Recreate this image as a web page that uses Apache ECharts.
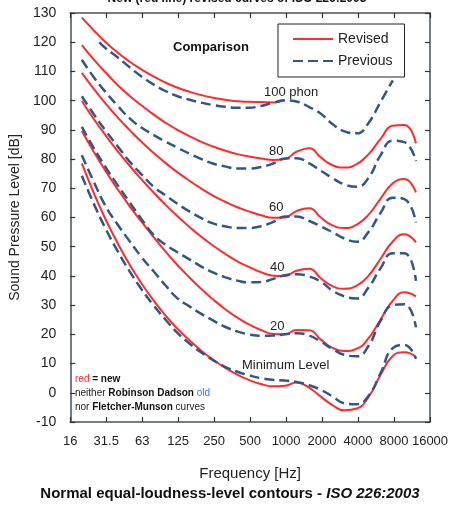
<!DOCTYPE html>
<html>
<head>
<meta charset="utf-8">
<script src="https://cdn.jsdelivr.net/npm/echarts@6/dist/echarts.min.js"></script>
<style>
  html, body { margin: 0; padding: 0; background: #fff; }
  #chart { width: 460px; height: 506px; }
</style>
</head>
<body>
<div id="chart"></div>
<script>
// octave tick labels on the frequency axis
const tickLabels = ['16', '31.5', '63', '125', '250', '500', '1000', '2000', '4000', '8000', '16000'];

// ISO 226:2003 (revised) - third-octave frequencies, Hz
const freqNew = [20, 25, 31.5, 40, 50, 63, 80, 100, 125, 160, 200, 250, 315, 400, 500, 630, 800,
  1000, 1250, 1600, 2000, 2500, 3150, 4000, 5000, 6300, 8000, 10000, 12500];
const freqNew100 = freqNew.slice(0, 18);

const newMin = [78.5, 68.7, 59.5, 51.1, 44.0, 37.5, 31.5, 26.5, 22.1, 17.9, 14.4, 11.4, 8.6, 6.2, 4.4, 3.0, 2.2,
  2.4, 3.5, 1.7, -1.3, -4.2, -6.0, -5.4, -1.5, 6.0, 12.6, 13.9, 12.3];
const new20 = [89.6, 82.7, 76.0, 69.6, 64.0, 58.6, 53.2, 48.4, 43.9, 39.4, 35.5, 32.0, 28.7, 25.7, 23.4, 21.5, 20.1,
  20.0, 21.5, 21.4, 18.2, 15.4, 14.3, 15.1, 18.6, 25.0, 31.5, 34.4, 33.0];
const new40 = [99.9, 93.9, 88.2, 82.6, 77.8, 73.1, 68.5, 64.4, 60.6, 56.7, 53.4, 50.4, 47.6, 45.0, 43.1, 41.3, 40.1,
  40.0, 41.8, 42.5, 39.2, 36.5, 35.6, 36.7, 40.0, 45.8, 51.8, 54.3, 51.5];
const new60 = [109.5, 104.2, 99.1, 94.2, 90.0, 85.9, 82.1, 78.7, 75.6, 72.5, 69.9, 67.5, 65.4, 63.5, 62.1, 60.8, 59.9,
  60.0, 62.2, 63.2, 60.0, 57.3, 56.4, 57.6, 60.9, 66.4, 71.7, 73.2, 68.6];
const new80 = [119.0, 114.2, 109.7, 105.3, 101.7, 98.4, 95.2, 92.5, 90.1, 87.8, 85.9, 84.3, 82.9, 81.7, 80.9, 80.2, 79.7,
  80.0, 82.5, 83.7, 80.6, 77.9, 77.1, 78.3, 81.6, 86.8, 91.4, 91.7, 85.4];
const new100 = [128.4, 124.2, 120.1, 116.4, 113.4, 110.7, 108.2, 106.2, 104.5, 103.0, 101.9, 101.0, 100.3, 99.8, 99.6,
  99.5, 99.4, 100.0];

// previous curves (dashed)
const freqOld = freqNew;
const freqOld100 = [28, 31.5, 40, 50, 63, 80, 100, 125, 160, 200, 250, 315, 400, 500, 630, 800,
  1000, 1250, 1600, 2000, 2500, 3150, 4000, 5000, 6300, 8000];

const oldMin = [74.3, 65.0, 56.3, 48.4, 41.7, 35.5, 29.8, 25.1, 20.7, 16.8, 13.8, 11.2, 8.9, 7.2, 6.0, 5.0, 4.4,
  4.2, 3.7, 2.6, 1.0, -1.2, -3.6, -3.9, -1.1, 6.6, 15.3, 16.4, 11.6];
const old20 = [81.3, 72.5, 64.0, 57.5, 52.0, 46.5, 41.5, 36.8, 32.5, 29.5, 27.0, 24.8, 22.6, 21.0, 20.0, 19.5, 19.6,
  20.0, 20.4, 19.6, 17.5, 15.0, 13.0, 12.5, 16.0, 24.5, 30.0, 30.3, 22.4];
const old40 = [91.0, 84.0, 77.3, 71.0, 65.3, 59.5, 54.0, 50.7, 48.2, 45.6, 43.2, 41.2, 39.6, 38.4, 37.8, 37.9, 39.0,
  40.2, 40.6, 39.8, 38.0, 35.0, 33.0, 32.3, 36.0, 42.5, 47.8, 47.8, 38.3];
const old60 = [101.5, 95.5, 89.8, 84.3, 79.2, 74.8, 70.5, 67.6, 64.8, 62.0, 59.8, 58.0, 57.0, 56.4, 56.4, 57.0, 58.5,
  60.3, 60.3, 58.8, 57.0, 55.0, 52.8, 51.7, 55.0, 61.5, 66.8, 66.3, 58.3];
const old80 = [114.0, 108.2, 103.0, 98.2, 94.0, 90.8, 88.2, 86.0, 84.0, 81.8, 80.0, 78.5, 77.5, 76.8, 76.8, 77.3, 78.5,
  80.2, 80.3, 78.5, 76.0, 73.5, 71.3, 70.5, 73.5, 81.2, 86.3, 85.8, 79.3];
const old100 = [120.0, 118.0, 114.8, 111.5, 108.3, 105.5, 103.3, 101.6, 100.3, 99.3, 98.5, 97.9, 97.6, 97.6, 98.2,
  99.3, 100.1, 99.7, 97.8, 95.5, 92.0, 89.5, 88.8, 92.3, 99.5, 106.9];

const RED = '#ff2a2a';
const BLUE = '#2f5787';
const FONT = "'Liberation Sans', Arial, sans-serif";

// x axis is in octaves above 16 Hz
function pts(freqs, vals) {
  return freqs.map((f, i) => [Math.log2(f / 16), vals[i]]);
}

function revised(freqs, vals) {
  return {
    name: 'Revised', type: 'line', data: pts(freqs, vals),
    symbol: 'none', smooth: 0.5, silent: true,
    lineStyle: { color: RED, width: 2 }, itemStyle: { color: RED, opacity: 0 }
  };
}
function previous(freqs, vals) {
  return {
    name: 'Previous', type: 'line', data: pts(freqs, vals),
    symbol: 'none', smooth: 0.5, silent: true,
    lineStyle: { color: BLUE, width: 2.5, type: [10, 5] }, itemStyle: { color: BLUE, opacity: 0 }
  };
}

const axisLine = { show: true, onZero: false, lineStyle: { color: '#4a4f5a', width: 1.5 } };
const axisTick = { show: true, inside: true, length: 5, lineStyle: { color: '#333', width: 1.2 } };

const noteFont = '10px ' + FONT;
const noteRich = {
  r: { fill: RED, font: noteFont },
  b: { fill: '#111', font: 'bold ' + noteFont },
  o: { fill: '#3b78e7', font: noteFont }
};

const chart = echarts.init(document.getElementById('chart'));
chart.setOption({
  backgroundColor: '#fff',
  animation: false,
  textStyle: { fontFamily: FONT },
  grid: { left: 62, right: 30, top: 13, bottom: 84 },
  legend: {
    data: ['Revised', 'Previous'],
    orient: 'vertical',
    left: 278, top: 24,
    padding: [8, 12, 9, 14],
    itemGap: 8,
    itemWidth: 40, itemHeight: 14,
    borderColor: '#222', borderWidth: 1,
    backgroundColor: '#fff',
    itemStyle: { opacity: 0, borderWidth: 0 },
    textStyle: { fontSize: 14, color: '#222', fontFamily: FONT }
  },
  xAxis: [
    {
      type: 'value', min: 0, max: 10, interval: 1, position: 'bottom',
      axisLine, axisTick, splitLine: { show: false },
      axisLabel: { formatter: v => tickLabels[v], fontSize: 13, color: '#222', margin: 13 },
      name: 'Frequency [Hz]', nameLocation: 'middle', nameGap: 44,
      nameTextStyle: { fontSize: 15, color: '#222' }
    },
    {
      type: 'value', min: 0, max: 10, interval: 1, position: 'top',
      axisLine, axisTick, splitLine: { show: false }, axisLabel: { show: false }
    }
  ],
  yAxis: [
    {
      type: 'value', min: -10, max: 130, interval: 10, position: 'left',
      axisLine, axisTick, splitLine: { show: false },
      axisLabel: { fontSize: 14, color: '#222', margin: 14 },
      name: 'Sound Pressure Level [dB]', nameLocation: 'middle', nameGap: 38,
      nameTextStyle: { fontSize: 14, color: '#222' }
    },
    {
      type: 'value', min: -10, max: 130, interval: 10, position: 'right',
      axisLine, axisTick, splitLine: { show: false }, axisLabel: { show: false }
    }
  ],
  series: [
    revised(freqNew100, new100),
    revised(freqNew, new80),
    revised(freqNew, new60),
    revised(freqNew, new40),
    revised(freqNew, new20),
    revised(freqNew, newMin),
    previous(freqOld100, old100),
    previous(freqOld, old80),
    previous(freqOld, old60),
    previous(freqOld, old40),
    previous(freqOld, old20),
    previous(freqOld, oldMin)
  ],
  graphic: [
    { type: 'text', x: 237, y: -1, style: { text: 'New (red line) revised curves of ISO 226:2003',
      font: 'bold 12px ' + FONT, fill: '#111', align: 'center', verticalAlign: 'middle',
      textAlign: 'center', textVerticalAlign: 'middle' } },
    { type: 'text', x: 173, y: 41, style: { text: 'Comparison', font: 'bold 13px ' + FONT, fill: '#111' } },
    { type: 'text', x: 264, y: 86, style: { text: '100 phon', font: '13px ' + FONT, fill: '#222' } },
    { type: 'text', x: 269, y: 145, style: { text: '80', font: '13px ' + FONT, fill: '#222' } },
    { type: 'text', x: 269, y: 201, style: { text: '60', font: '13px ' + FONT, fill: '#222' } },
    { type: 'text', x: 270, y: 261, style: { text: '40', font: '13px ' + FONT, fill: '#222' } },
    { type: 'text', x: 270, y: 320, style: { text: '20', font: '13px ' + FONT, fill: '#222' } },
    { type: 'text', x: 242, y: 359, style: { text: 'Minimum Level', font: '13px ' + FONT, fill: '#222' } },
    { type: 'text', x: 75, y: 374, style: { text: '{r|red}{b| = new}', font: noteFont, fill: '#222', rich: noteRich } },
    { type: 'text', x: 75, y: 388, style: { text: 'neither {b|Robinson Dadson} {o|old}', font: noteFont, fill: '#222', rich: noteRich } },
    { type: 'text', x: 75, y: 402, style: { text: 'nor {b|Fletcher-Munson} curves', font: noteFont, fill: '#222', rich: noteRich } },
    { type: 'text', x: 230, y: 494, style: {
      text: '{b|Normal equal-loudness-level contours - }{i|ISO 226:2003}',
      align: 'center', verticalAlign: 'middle', textAlign: 'center', textVerticalAlign: 'middle',
      rich: {
        b: { fill: '#111', font: 'bold 15px ' + FONT },
        i: { fill: '#111', font: 'italic bold 15px ' + FONT }
      } } }
  ]
});
</script>
</body>
</html>
